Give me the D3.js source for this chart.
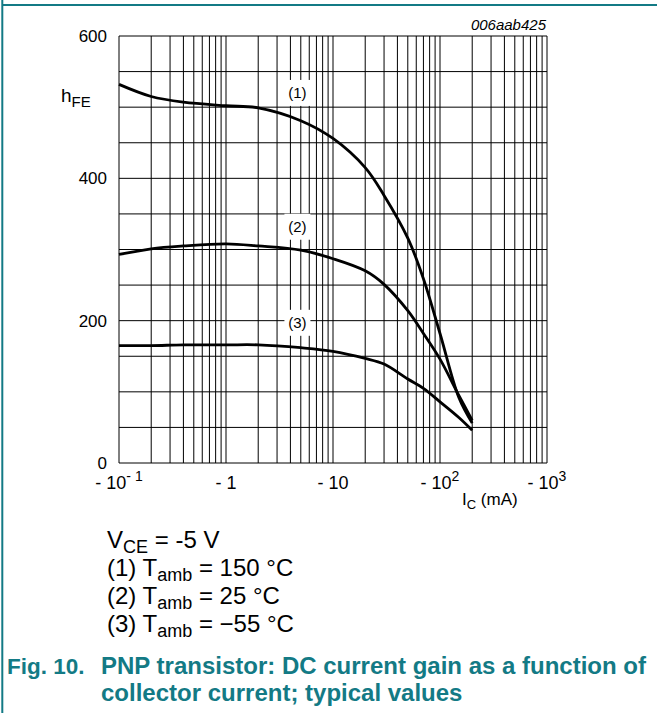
<!DOCTYPE html>
<meta charset="UTF-8">
<title>DC current gain</title>
<style>
  body { margin: 0; background: #fff; }
  svg text { font-family: "Liberation Sans", Arial, sans-serif; }
</style>
<script src="https://d3js.org/d3.v7.min.js"></script>
<body>
<script>
  // collector current magnitude (mA), shared by the three curves
  var icValues = [0.1, 0.2, 0.4, 1, 2, 5, 10, 20, 30, 50, 70, 100, 150, 200];
  // (1) Tamb = 150 C
  var hfe150 = [532, 515, 507, 502, 499, 481, 456, 415, 376, 316, 259, 182, 92, 56];
  // (2) Tamb = 25 C
  var hfe25 = [293, 301, 305, 308, 305, 299, 287, 270, 251, 214, 182, 146, 95, 60];
  // (3) Tamb = -55 C
  var hfeMinus55 = [165, 165, 166, 166, 166, 162, 157, 147, 139, 118, 105, 86, 64, 46];

  var curveNames = ["(1)", "(2)", "(3)"];
  var curveLabelAt = [[4.65, 520], [4.65, 332], [4.65, 197]];

  var yTicks = [0, 200, 400, 600];
  var xDecades = [0.1, 1, 10, 100, 1000];
  var xTickMain = ["- 10", "- 1", "- 10", "- 10", "- 10"];
  var xTickSup = ["- 1", "", "", "2", "3"];

  var notes = [
    [["V", ""], ["CE", "sub"], [" = -5 V", ""]],
    [["(1) T", ""], ["amb", "sub"], [" = 150 °C", ""]],
    [["(2) T", ""], ["amb", "sub"], [" = 25 °C", ""]],
    [["(3) T", ""], ["amb", "sub"], [" = \u221255 °C", ""]]
  ];
  var caption = ["PNP transistor: DC current gain as a function of",
                 "collector current; typical values"];

  var W = 657, H = 713;
  var plotL = 119, plotR = 547, plotT = 36, plotB = 463;
  var teal = "#137a85";

  var svg = d3.select("body").append("svg").attr("width", W).attr("height", H);

  // frame lines of the page
  svg.append("line").attr("x1", 2.3).attr("x2", 2.3).attr("y1", 0).attr("y2", H)
    .attr("stroke", teal).attr("stroke-width", 2);
  svg.append("line").attr("x1", 2).attr("x2", W).attr("y1", 5).attr("y2", 5)
    .attr("stroke", teal).attr("stroke-width", 2);

  var x = d3.scaleLog().domain([0.1, 1000]).range([plotL, plotR]);
  var y = d3.scaleLinear().domain([0, 600]).range([plotB, plotT]);

  // grid
  var vGrid = [];
  xDecades.slice(0, 4).forEach(function(d) {
    for (var k = 1; k < 10; k++) vGrid.push(d * k);
  });
  vGrid.push(1000);
  var grid = svg.append("g").attr("stroke", "#000").attr("stroke-width", 1);
  grid.selectAll("line.v").data(vGrid).enter().append("line")
    .attr("class", "v")
    .attr("x1", function(d) { return x(d); }).attr("x2", function(d) { return x(d); })
    .attr("y1", plotT).attr("y2", plotB);
  grid.selectAll("line.h").data(d3.range(0, 601, 50)).enter().append("line")
    .attr("class", "h")
    .attr("x1", plotL).attr("x2", plotR)
    .attr("y1", function(d) { return y(d); }).attr("y2", function(d) { return y(d); });

  // curve labels with white boxes over the grid
  var lab = svg.append("g");
  curveNames.forEach(function(n, i) {
    var cx = x(curveLabelAt[i][0]), cy = y(curveLabelAt[i][1]);
    lab.append("rect").attr("x", cx - 13).attr("y", cy - 13)
      .attr("width", 26).attr("height", 26).attr("fill", "#fff");
    lab.append("text").attr("x", cx).attr("y", cy + 5)
      .attr("text-anchor", "middle").attr("font-size", 15).text(n);
  });

  // curves
  var line = d3.line()
    .x(function(d) { return x(d[0]); })
    .y(function(d) { return y(d[1]); })
    .curve(d3.curveCatmullRom.alpha(0.5));
  [hfe150, hfe25, hfeMinus55].forEach(function(series) {
    svg.append("path")
      .datum(d3.zip(icValues, series))
      .attr("d", line)
      .attr("fill", "none")
      .attr("stroke", "#000")
      .attr("stroke-width", 2.8)
      .attr("stroke-linejoin", "round");
  });

  // y tick labels
  svg.selectAll("text.yt").data(yTicks).enter().append("text")
    .attr("class", "yt")
    .attr("x", 107).attr("y", function(d) { return y(d) + 6; })
    .attr("text-anchor", "end").attr("font-size", 17)
    .text(function(d) { return d; });

  // y axis title
  var yt = svg.append("text").attr("x", 61).attr("y", 102).attr("font-size", 19);
  yt.append("tspan").text("h");
  yt.append("tspan").attr("dy", 5).attr("font-size", 15).text("FE");

  // x tick labels
  xDecades.forEach(function(d, i) {
    var t = svg.append("text").attr("x", x(d)).attr("y", 489)
      .attr("text-anchor", "middle").attr("font-size", 18);
    t.append("tspan").text(xTickMain[i]);
    if (xTickSup[i]) t.append("tspan").attr("dy", -8).attr("font-size", 14).text(xTickSup[i]);
  });

  // x axis title
  var xt = svg.append("text").attr("x", 462).attr("y", 505).attr("font-size", 17);
  xt.append("tspan").text("I");
  xt.append("tspan").attr("dy", 4).attr("font-size", 13).text("C");
  xt.append("tspan").attr("dy", -4).text(" (mA)");

  // drawing code
  svg.append("text").attr("x", 546).attr("y", 30).attr("text-anchor", "end")
    .attr("font-size", 15).attr("font-style", "italic").text("006aab425");

  // conditions
  notes.forEach(function(parts, i) {
    var t = svg.append("text").attr("x", 107).attr("y", 548 + i * 28).attr("font-size", 24);
    var shifted = false;
    parts.forEach(function(p) {
      var s = t.append("tspan").text(p[0]);
      if (p[1] === "sub") { s.attr("dy", 5).attr("font-size", 18); shifted = true; }
      else if (shifted) { s.attr("dy", -5); shifted = false; }
    });
  });

  // caption
  var cap = svg.append("g").attr("fill", teal).attr("font-weight", "bold").attr("font-size", 24);
  cap.append("text").attr("x", 7).attr("y", 674).attr("font-size", 22.5).text("Fig. 10.");
  cap.append("text").attr("x", 101).attr("y", 674).text(caption[0]);
  cap.append("text").attr("x", 101).attr("y", 701).text(caption[1]);
</script>
</body>
